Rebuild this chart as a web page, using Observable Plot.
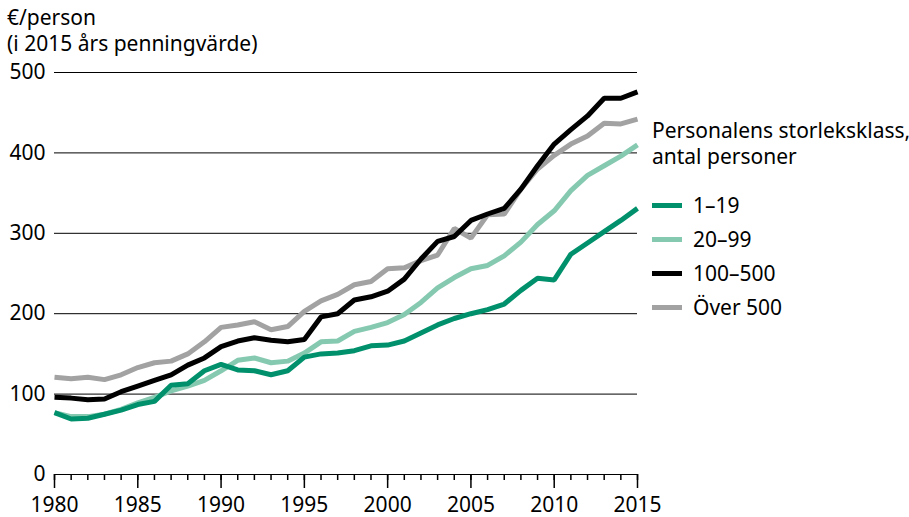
<!DOCTYPE html>
<html>
<head>
<meta charset="utf-8">
<script src="https://cdn.jsdelivr.net/npm/d3@7"></script>
<script src="https://cdn.jsdelivr.net/npm/@observablehq/plot@0.6"></script>
<style>
  body { margin: 0; background: #fff; }
  #wrap { position: relative; width: 909px; height: 517px; font-family: "Noto Sans", sans-serif; color: #000; }
  #wrap svg { position: absolute; left: 0; top: 0; }
  .ytitle { position: absolute; left: 7px; top: 4px; font-size: 21px; line-height: 26px; white-space: nowrap; }
  .legend { position: absolute; left: 652px; top: 117px; font-size: 21px; white-space: nowrap; }
  .legend .lt { line-height: 26px; margin-bottom: 19px; }
  .legend .item { display: flex; align-items: center; height: 34px; }
  .legend .sw { width: 30px; height: 5px; margin-right: 11px; }
</style>
</head>
<body>
<div id="wrap">
  <div class="ytitle">€/person<br>(i 2015 års penningvärde)</div>
  <div class="legend" id="legend"></div>
</div>
<script>
const years = d3.range(1980, 2016);
const s1_19 = [77, 69, 70, 75, 80, 87, 91, 111, 113, 129, 137, 130, 129, 124, 129, 146, 150, 151, 154, 160, 161, 166, 176, 186, 194, 200, 205, 212, 229, 244, 242, 274, 288, 302, 316, 331];
const s20_99 = [77, 72, 72, 75, 81, 89, 96, 104, 110, 117, 129, 142, 145, 139, 141, 151, 165, 166, 178, 183, 189, 199, 214, 232, 245, 256, 260, 272, 289, 311, 328, 353, 372, 384, 396, 410];
const s100_500 = [96, 95, 93, 94, 103, 110, 117, 124, 136, 145, 159, 166, 170, 167, 165, 168, 196, 200, 217, 221, 228, 243, 268, 290, 296, 316, 324, 331, 355, 384, 411, 429, 446, 468, 468, 476];
const sOver500 = [121, 119, 121, 118, 124, 133, 139, 141, 150, 165, 183, 186, 190, 180, 184, 203, 216, 224, 236, 240, 256, 257, 266, 273, 306, 294, 323, 324, 355, 380, 397, 411, 421, 437, 436, 442];
const seriesNames = ["1–19", "20–99", "100–500", "Över 500"];
const seriesColors = ["#00916c", "#86c9b1", "#000000", "#a2a2a2"];
const yTicks = [0, 100, 200, 300, 400, 500];
const xLabelTicks = [1980, 1985, 1990, 1995, 2000, 2005, 2010, 2015];

const seriesValues = [s1_19, s20_99, s100_500, sOver500];
const data = [];
// draw order: Över 500, 100–500, 20–99, 1–19
[3, 2, 1, 0].forEach(i => {
  years.forEach((yr, j) => data.push({year: yr, value: seriesValues[i][j], series: seriesNames[i]}));
});

const chart = Plot.plot({
  width: 909,
  height: 517,
  marginLeft: 54,
  marginRight: 272,
  marginTop: 72,
  marginBottom: 43,
  style: {fontFamily: "'Noto Sans', sans-serif", fontSize: "21px", color: "#000", background: "transparent", overflow: "visible"},
  x: {domain: [1980, 2015], axis: null},
  y: {domain: [0, 500], axis: null},
  color: {domain: seriesNames, range: seriesColors},
  marks: [
    Plot.ruleY(yTicks, {stroke: "#000", strokeWidth: 1}),
    Plot.axisY(yTicks, {tickSize: 0, tickPadding: 9, label: null, fontSize: 21, tickFormat: d => String(d)}),
    Plot.axisX(years, {tickSize: 6, strokeWidth: 1.5, tickFormat: () => "", label: null}),
    Plot.axisX(xLabelTicks, {tickSize: 14, strokeWidth: 1.5, tickPadding: 9, label: null, fontSize: 21, tickFormat: d => String(d)}),
    Plot.line(data, {x: "year", y: "value", z: "series", stroke: "series", strokeWidth: 5, strokeLinejoin: "miter", strokeLinecap: "butt"})
  ]
});
document.getElementById("wrap").prepend(chart);

const legend = document.getElementById("legend");
legend.innerHTML = `<div class="lt">Personalens storleksklass,<br>antal personer</div>` +
  seriesNames.map((n, i) => `<div class="item"><span class="sw" style="background:${seriesColors[i]}"></span>${n}</div>`).join("");
</script>
</body>
</html>
